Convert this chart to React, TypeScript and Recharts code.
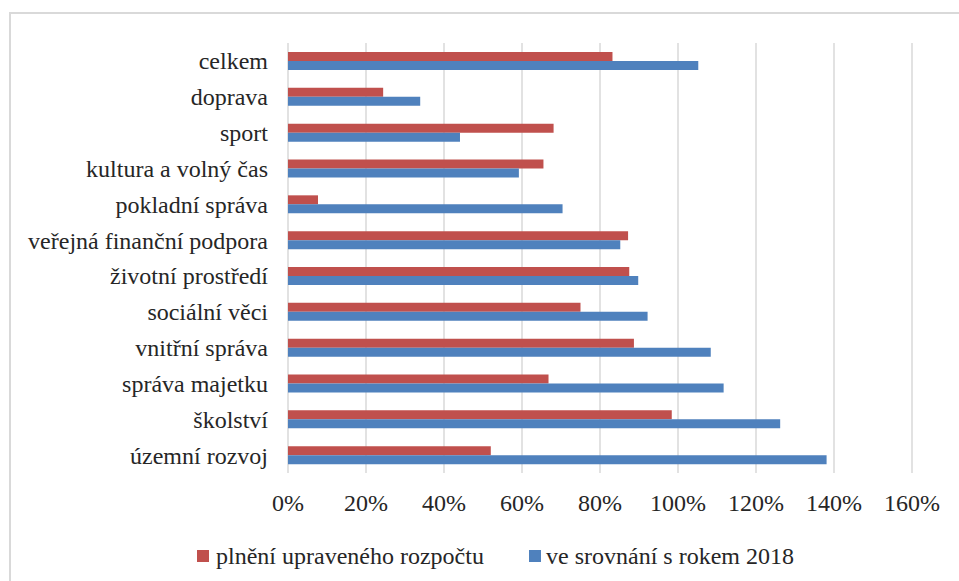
import React from "react";
import { BarChart, Bar, XAxis, YAxis, CartesianGrid, Legend } from "recharts";

const categories = [
  "celkem",
  "doprava",
  "sport",
  "kultura a volný čas",
  "pokladní správa",
  "veřejná finanční podpora",
  "životní prostředí",
  "sociální věci",
  "vnitřní správa",
  "správa majetku",
  "školství",
  "územní rozvoj",
];

const plneni = [83.2, 24.4, 68.1, 65.5, 7.7, 87.2, 87.5, 75.0, 88.7, 66.8, 98.4, 52.0];
const srovnani = [105.2, 33.9, 44.1, 59.2, 70.4, 85.2, 89.8, 92.2, 108.4, 111.7, 126.2, 138.1];

const xTicks = [0, 20, 40, 60, 80, 100, 120, 140, 160];

const seriesNames = ["plnění upraveného rozpočtu", "ve srovnání s rokem 2018"];
const RED = "#C0504D";
const BLUE = "#4F81BD";

const data = categories.map((name, i) => ({
  name,
  plneni: plneni[i],
  srovnani: srovnani[i],
}));

const FONT = "'Times New Roman', Times, 'Liberation Serif', serif";
const TEXT = "#262626";

const LegendContent = () => (
  <div style={{ position: "relative", width: 959, height: 40, fontFamily: FONT, fontSize: 24, color: TEXT }}>
    <div style={{ position: "absolute", left: 197, top: 0, height: 40, display: "flex", alignItems: "center" }}>
      <span style={{ display: "inline-block", width: 12, height: 12, background: RED, marginRight: 7 }} />
      <span>{seriesNames[0]}</span>
    </div>
    <div style={{ position: "absolute", left: 529, top: 0, height: 40, display: "flex", alignItems: "center" }}>
      <span style={{ display: "inline-block", width: 12, height: 12, background: BLUE, marginRight: 5 }} />
      <span>{seriesNames[1]}</span>
    </div>
  </div>
);

export default function App() {
  return (
    <div
      style={{
        position: "absolute",
        left: 0,
        top: 0,
        width: 959,
        height: 581,
        overflow: "hidden",
        background: "#ffffff",
        fontFamily: FONT,
      }}
    >
      <div
        style={{
          position: "absolute",
          left: 9,
          top: 12,
          width: 1000,
          height: 1000,
          border: "2px solid #d9d9d9",
          boxSizing: "border-box",
        }}
      />
      <div style={{ position: "absolute", left: 0, top: 0 }}>
        <BarChart
          width={959}
          height={581}
          data={data}
          layout="vertical"
          margin={{ top: 43, right: 47, bottom: 5, left: 0 }}
          barGap={0}
          barCategoryGap="25%"
          style={{ fontFamily: FONT }}
        >
          <CartesianGrid horizontal={false} vertical={true} stroke="#d9d9d9" strokeWidth={1.5} />
          <XAxis
            type="number"
            domain={[0, 160]}
            ticks={xTicks}
            tickFormatter={(v) => `${v}%`}
            axisLine={false}
            tickLine={false}
            tickSize={0}
            tickMargin={21}
            height={63}
            interval={0}
            tick={{ fill: TEXT, fontSize: 24, fontFamily: FONT }}
          />
          <YAxis
            type="category"
            dataKey="name"
            width={288}
            axisLine={false}
            tickLine={false}
            tickSize={0}
            tickMargin={20}
            interval={0}
            tick={{ fill: TEXT, fontSize: 24, fontFamily: FONT }}
          />
          <Legend verticalAlign="bottom" height={40} content={<LegendContent />} />
          <Bar dataKey="plneni" name={seriesNames[0]} fill={RED} barSize={9} isAnimationActive={false} />
          <Bar dataKey="srovnani" name={seriesNames[1]} fill={BLUE} barSize={9} isAnimationActive={false} />
        </BarChart>
      </div>
    </div>
  );
}
